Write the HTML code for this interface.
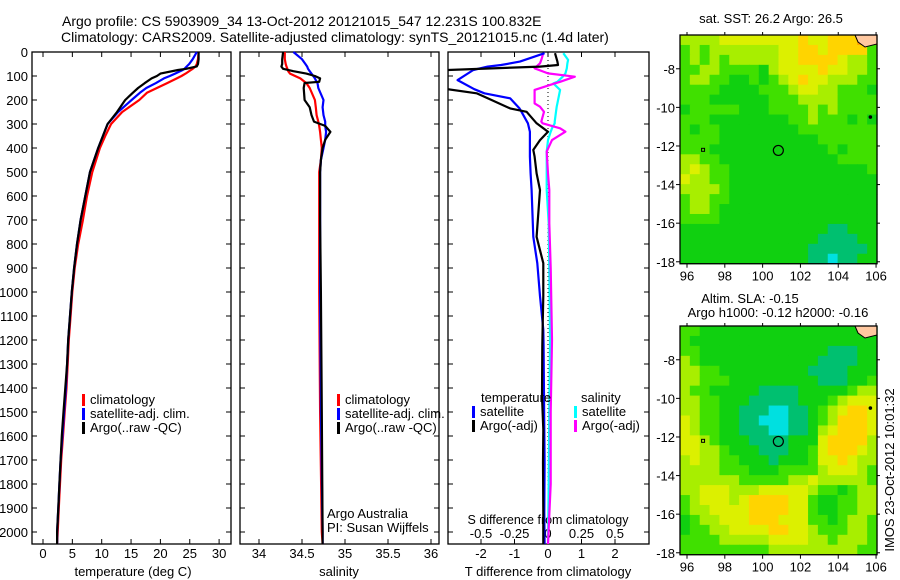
<!DOCTYPE html>
<html><head><meta charset="utf-8">
<style>
html,body{margin:0;padding:0;background:#fff;}
svg{display:block;font-family:"Liberation Sans",Arial,sans-serif;}
text{fill:#000;}
</style></head>
<body>
<svg id="fig" width="900" height="580" viewBox="0 0 900 580">
<text x="62" y="26" font-size="14">Argo profile: CS 5903909_34 13-Oct-2012 20121015_547 12.231S 100.832E</text>
<text x="61" y="42" font-size="14">Climatology: CARS2009. Satellite-adjusted climatology: synTS_20121015.nc (1.4d later)</text>
<g id="g"></g>
</svg>
<script>
// ---------- DATA ----------
const tempDepth=[0,30,50,60,70,75,90,100,110,130,150,170,200,250,300,350,400,500,600,700,800,900,1000,1100,1200,1300,1400,1500,1600,1700,1800,1900,2000,2050];
const tempClim=[26.5,26.4,26.2,26,25.5,25.2,24.3,23.6,22.8,21.1,19.4,17.7,16.4,13.5,11.6,10.6,9.7,8.4,7.5,6.8,6.0,5.4,5.0,4.7,4.4,4.2,4.0,3.7,3.4,3.1,2.9,2.7,2.5,2.4];
const tempSat=[26.2,25.5,24.9,24.5,24.1,23.8,22.5,21.6,20.6,19.2,17.6,16.5,15.1,12.8,11.0,10.2,9.4,8.0,7.2,6.4,5.8,5.3,4.9,4.6,4.3,4.1,3.9,3.6,3.3,3.0,2.8,2.6,2.4,2.4];
const tempArgo=[26.5,26.5,26.4,26.2,24.4,23,20,19.4,18.5,17.3,16.2,15.3,14.0,12.6,11.0,10.2,9.4,8.0,7.2,6.4,5.8,5.3,4.9,4.6,4.3,4.1,3.8,3.5,3.2,3.0,2.8,2.6,2.4,2.4];
const salDepth=[0,30,50,61,70,80,90,100,110,124,129,150,200,230,263,290,308,333,366,400,450,500,700,1000,1500,2000,2050];
const salClim=[34.30,34.30,34.31,34.32,34.33,34.34,34.36,34.42,34.48,34.53,34.55,34.59,34.65,34.66,34.67,34.69,34.70,34.71,34.72,34.73,34.72,34.70,34.70,34.70,34.71,34.73,34.74];
const salSat=[34.40,34.50,34.54,34.56,34.57,34.59,34.61,34.63,34.65,34.67,34.68,34.69,34.75,34.74,34.75,34.77,34.77,34.78,34.77,34.75,34.72,34.71,34.71,34.71,34.72,34.74,34.74];
const salArgo=[34.28,34.27,34.27,34.26,34.28,34.40,34.55,34.65,34.71,34.70,34.53,34.52,34.53,34.59,34.61,34.64,34.77,34.83,34.77,34.74,34.72,34.71,34.71,34.72,34.73,34.74,34.74];
const dtDepth=[5,40,54,61,75,117,155,172,193,235,249,297,332,367,408,436,506,575,770,880,1017,1157,1226,1435,1573,1712,1920,2050];
const dtSat=[-0.1,-0.84,-1.4,-1.8,-2.23,-2.7,-2.2,-1.9,-1.13,-0.85,-0.79,-0.6,-0.54,-0.54,-0.54,-0.54,-0.52,-0.49,-0.44,-0.32,-0.24,-0.14,-0.13,-0.12,-0.11,-0.1,-0.11,-0.1];
const dtArgo=[0.21,0.28,0.3,-0.24,-3,-3,-3,-2.13,-1.8,-1.13,-0.64,-0.34,0,-0.24,-0.44,-0.4,-0.34,-0.24,-0.34,-0.14,-0.14,-0.16,-0.17,-0.18,-0.14,-0.15,-0.14,-0.14];
const dsDepth=[5,33,47,68,89,103,124,131,158,214,228,249,290,297,318,332,367,415,506,575,714,900,1200,1500,1800,2050];
const dsSat=[0.114,0.15,0.145,0.14,0.13,0.11,0.07,0.04,0.09,0.07,0.065,0.06,0.05,0.05,0.03,0.02,0.0,-0.01,-0.01,-0.01,0.005,0.01,0.015,0.01,0.005,0.0];
const dsArgo=[-0.035,-0.05,-0.06,-0.1,0.0,0.2,0.09,0.05,-0.1,-0.1,-0.06,-0.03,-0.05,-0.04,0.09,0.13,0.03,-0.01,0.0,0.01,0.01,0.02,0.03,0.02,0.02,0.0];
const depthTicks=[0,100,200,300,400,500,600,700,800,900,1000,1100,1200,1300,1400,1500,1600,1700,1800,1900,2000];
const tTicks=[0,5,10,15,20,25,30];
const sTicks=[34,34.5,35,35.5,36];
const sTickLabels=["34","34.5","35","35.5","36"];
const dtTicks=[-2,-1,0,1,2];
const dsTicks=[-0.5,-0.25,0,0.25,0.5];
const dsTickLabels=["-0.5","-0.25","0","0.25","0.5"];
const lonTicks=[96,98,100,102,104,106];
const latTicks=[-8,-10,-12,-14,-16,-18];
const argoLon=100.832, argoLat=-12.231;
const sstGrid=[
"44445555555565566677","34344444445566566663","34343444445566665443","33443333245555655443",
"34433223234565544433","33332222333455443332","33322222233344443333","23333322233334343333",
"33322222222334333232","32332222222233333333","33332222222222333333","33322222222222232333",
"44332222222222223333","45433222222222222223","54433222222222222222","44443222222222222222",
"34433222222222222222","34432222222222222222","33332222222222222222","22222222222222211222",
"22222222222222111122","22222222222221111112","22222222222221101122"];
const slaGrid=[
"33222222222222222222","32222222222222222222","33222222222222211122","43222222222222111122",
"44332222222221111222","44333222222222111223","43322222111122222344","44332221111122234555",
"44332211100112345665","54332211000112346665","54332211100112456665","55432221111222566664",
"55443222111223566654","45443322212223556544","44443332223333455543","44444433333445444443",
"44555444555554332344","34555456666553223344","34455556666553223344","23445556665553323443",
"23344555566554333443","33334444455554434443","33333333344444444433"];
const palette=["#00e0e0","#00c070","#10d010","#40e000","#a8ee00","#dcf000","#ffd400","#ff9c00"];

// ---------- HELPERS ----------
const NS="http://www.w3.org/2000/svg";
const G=document.getElementById('g');
function mk(tag,attrs,parent){const e=document.createElementNS(NS,tag);for(const k in attrs)e.setAttribute(k,attrs[k]);(parent||G).appendChild(e);return e;}
const Y0=52, YS=0.24;
const yD=d=>Y0+d*YS;
const PB=544;
function panel(x0,x1,name){
  const r=mk('rect',{x:x0,y:Y0,width:x1-x0,height:PB-Y0,fill:'none',stroke:'#000','stroke-width':1.3});
  
  
  depthTicks.forEach(d=>{
    const t1=mk('line',{x1:x0,x2:x0+5,y1:yD(d),y2:yD(d),stroke:'#000'});
    
    
    const t2=mk('line',{x1:x1,x2:x1-5,y1:yD(d),y2:yD(d),stroke:'#000'});
    
    
  });
}
function xticks(vals,labels,fx,name,labelY){
  vals.forEach((v,i)=>{
    const x=fx(v);
    const a=mk('line',{x1:x,x2:x,y1:Y0,y2:Y0+5,stroke:'#000'});
    
    
    const b=mk('line',{x1:x,x2:x,y1:PB,y2:PB-5,stroke:'#000'});
    
    
    if(labels){
      const t=mk('text',{x:x,y:labelY,'font-size':13,'text-anchor':'middle'});
      t.textContent=labels[i];
      
      
    }
  });
}
function line(ds,vs,fx,color,name,clip){
  const pts=ds.map((d,i)=>fx(vs[i]).toFixed(1)+','+yD(d).toFixed(1)).join(' ');
  const p=mk('polyline',{points:pts,fill:'none',stroke:color,'stroke-width':2.2,'stroke-linejoin':'round'});
  if(clip)p.setAttribute('clip-path','url(#'+clip+')');
  
  
}
function label(x,y,s,name,size,anchor){
  const t=mk('text',{x:x,y:y,'font-size':size||13,'text-anchor':anchor||'start'});
  t.textContent=s;
  
  
  return t;
}
function legend(x,y,color,s,name){
  const r=mk('rect',{x:x,y:y-10,width:3,height:12,fill:color});
  
  
  label(x+8,y,s,name);
}
const defs=mk('defs',{});
const cp=mk('clipPath',{id:'cp3'},defs);mk('rect',{x:448,y:Y0,width:201,height:PB-Y0},cp);

depthTicks.forEach(d=>{label(28,yD(d)+5,String(d),'depth-tick-label',13,'end');});

// Panel 1 temperature
const xT=v=>43+v*5.87;
panel(32,231,'temperature-panel');
xticks(tTicks,tTicks.map(String),xT,'temperature',558);
line(tempDepth,tempClim,xT,'#ff0000','temperature-climatology-line');
line(tempDepth,tempSat,xT,'#0000ff','temperature-satellite-line');
line(tempDepth,tempArgo,xT,'#000000','temperature-argo-line');
legend(82,404,'#ff0000','climatology','legend-climatology');
legend(82,418,'#0000ff','satellite-adj. clim.','legend-satellite');
legend(82,432,'#000000','Argo(..raw -QC)','legend-argo');
label(133,576,'temperature (deg C)','temperature-axis-title',13,'middle');

// Panel 2 salinity
const xS=v=>259+(v-34)*86;
panel(240,439,'salinity-panel');
xticks(sTicks,sTickLabels,xS,'salinity',558);
line(salDepth,salClim,xS,'#ff0000','salinity-climatology-line');
line(salDepth,salSat,xS,'#0000ff','salinity-satellite-line');
line(salDepth,salArgo,xS,'#000000','salinity-argo-line');
legend(337,404,'#ff0000','climatology','legend-sal-climatology');
legend(337,418,'#0000ff','satellite-adj. clim.','legend-sal-satellite');
legend(337,432,'#000000','Argo(..raw -QC)','legend-sal-argo');
label(327,518,'Argo Australia','argo-australia-note');
label(327,532,'PI: Susan Wijffels','pi-note');
label(339,576,'salinity','salinity-axis-title',13,'middle');

// Panel 3 differences
const xDT=v=>548+v*33.5;
const xDS=v=>548+v*134;
panel(448,649,'difference-panel');
xticks(dtTicks,dtTicks.map(String),xDT,'t-diff',558);
dsTicks.forEach((v,i)=>{label(xDS(v),538,dsTickLabels[i],'s-diff-tick-label',13,'middle');});
label(548,524,'S difference from climatology','s-diff-axis-title',12.5,'middle');
label(548,576,'T difference from climatology','t-diff-axis-title',13,'middle');
const zl=mk('line',{x1:xDT(0),x2:xDT(0),y1:Y0,y2:PB,stroke:'#000','stroke-dasharray':'1,3'});


line(dsDepth,dsSat,xDS,'#00ffff','s-diff-satellite-line','cp3');
line(dsDepth,dsArgo,xDS,'#ff00ff','s-diff-argo-line','cp3');
line(dtDepth,dtSat,xDT,'#0000ff','t-diff-satellite-line','cp3');
line(dtDepth,dtArgo,xDT,'#000000','t-diff-argo-line','cp3');
label(481,402,'temperature','legend-temperature-heading');
legend(472,416,'#0000ff','satellite','legend-t-satellite');
legend(472,430,'#000000','Argo(-adj)','legend-t-argo');
label(581,402,'salinity','legend-salinity-heading');
legend(574,416,'#00ffff','satellite','legend-s-satellite');
legend(574,430,'#ff00ff','Argo(-adj)','legend-s-argo');

// Maps
function drawMap(grid,top,name){
  const L=680,R=877,LON0=95.63,LON1=106.05;
  const latTop=-6.25, pxDeg=19.3;
  const bottom=top+(18.1+latTop)*pxDeg;
  const fx=lon=>L+(lon-LON0)/(LON1-LON0)*(R-L);
  const fy=lat=>top+(latTop-lat)*pxDeg;
  const rows=grid.length, cols=grid[0].length;
  const cw=(R-L)/cols, ch=(bottom-top)/rows;
  grid.forEach((row,r)=>{
    for(let c=0;c<cols;c++){
      const cell=mk('rect',{x:(L+c*cw).toFixed(2),y:(top+r*ch).toFixed(2),width:(cw+0.6).toFixed(2),height:(ch+0.6).toFixed(2),fill:palette[+row[c]]});
      
      
    }
  });
  const land=mk('path',{d:`M${R-22},${top} L${R},${top} L${R},${top+9} L${R-12},${top+12} L${R-19},${top+7} Z`,fill:'#ffc8a0',stroke:'#000','stroke-width':1});
  
  
  const isl=mk('circle',{cx:fx(105.7),cy:fy(-10.5),r:1.8,fill:'#000'});
  
  
  const isl2=mk('rect',{x:fx(96.85)-1.5,y:fy(-12.2)-1.5,width:3,height:3,fill:'none',stroke:'#000'});
  
  
  const fr=mk('rect',{x:L,y:top,width:R-L,height:bottom-top,fill:'none',stroke:'#000','stroke-width':1.3});
  
  
  const m=mk('circle',{cx:fx(argoLon),cy:fy(argoLat),r:5,fill:'none',stroke:'#000','stroke-width':1.2});
  
  
  lonTicks.forEach(v=>{
    const t=mk('line',{x1:fx(v),x2:fx(v),y1:bottom,y2:bottom+4,stroke:'#000'});
    
    
    const t2=mk('line',{x1:fx(v),x2:fx(v),y1:top,y2:top-3,stroke:'#000'});
    
    
    label(fx(v),bottom+17,String(v),name+'-lon-label',13,'middle');
  });
  latTicks.forEach(v=>{
    const t=mk('line',{x1:L-4,x2:L,y1:fy(v),y2:fy(v),stroke:'#000'});
    
    
    const t2=mk('line',{x1:R,x2:R+3,y1:fy(v),y2:fy(v),stroke:'#000'});
    
    
    label(L-5,fy(v)+5,String(v),name+'-lat-label',13,'end');
  });
}
drawMap(sstGrid,35,'sst-map');
label(771,23,'sat. SST: 26.2 Argo: 26.5','sst-map-title',13,'middle');
drawMap(slaGrid,326,'sla-map');
label(750,303,'Altim. SLA: -0.15','sla-map-title',13,'middle');
label(778,317,'Argo h1000: -0.12 h2000: -0.16','sla-map-subtitle',13,'middle');
const rt=label(0,0,'IMOS 23-Oct-2012 10:01:32','imos-timestamp',13,'middle');
rt.setAttribute('transform','translate(894,470) rotate(-90)');
</script>
</body></html>
